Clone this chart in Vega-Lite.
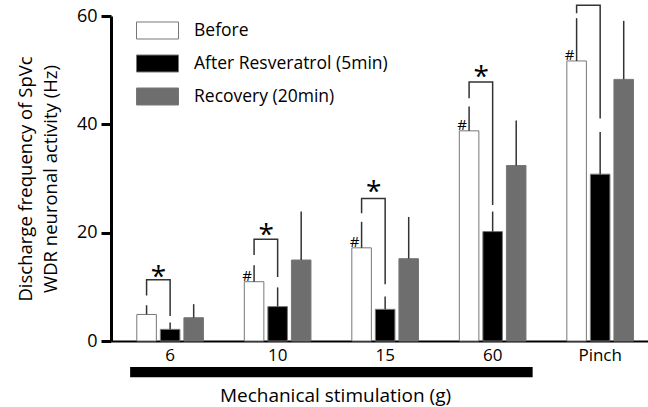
{
  "$schema": "https://vega.github.io/schema/vega-lite/v6.json",
  "width": 537,
  "height": 325,
  "autosize": {"type": "none"},
  "padding": {"left": 111, "top": 16, "right": 0, "bottom": 66},
  "config": {"view": {"stroke": null}, "font": "Open Sans"},
  "datasets": {
    "bars": [
      {"group": "6", "series": "Before", "value": 4.9, "err": 6.6},
      {"group": "6", "series": "After Resveratrol (5min)", "value": 2.15, "err": 3.4},
      {"group": "6", "series": "Recovery (20min)", "value": 4.3, "err": 6.8},
      {"group": "10", "series": "Before", "value": 10.95, "err": 14.0},
      {"group": "10", "series": "After Resveratrol (5min)", "value": 6.35, "err": 9.9},
      {"group": "10", "series": "Recovery (20min)", "value": 14.95, "err": 23.9},
      {"group": "15", "series": "Before", "value": 17.2, "err": 22.0},
      {"group": "15", "series": "After Resveratrol (5min)", "value": 5.85, "err": 8.2},
      {"group": "15", "series": "Recovery (20min)", "value": 15.2, "err": 22.9},
      {"group": "60", "series": "Before", "value": 38.8, "err": 43.3},
      {"group": "60", "series": "After Resveratrol (5min)", "value": 20.2, "err": 23.9},
      {"group": "60", "series": "Recovery (20min)", "value": 32.4, "err": 40.7},
      {"group": "Pinch", "series": "Before", "value": 51.7, "err": 59.6},
      {"group": "Pinch", "series": "After Resveratrol (5min)", "value": 30.8, "err": 38.6},
      {"group": "Pinch", "series": "Recovery (20min)", "value": 48.3, "err": 59.1}
    ],
    "brackets": [
      {"id": "b6", "group": "6", "series": "Before", "y": 8.4, "k": 1},
      {"id": "b6", "group": "6", "series": "Before", "y": 11.3, "k": 2},
      {"id": "b6", "group": "6", "series": "After Resveratrol (5min)", "y": 11.3, "k": 3},
      {"id": "b6", "group": "6", "series": "After Resveratrol (5min)", "y": 4.6, "k": 4},
      {"id": "b10", "group": "10", "series": "Before", "y": 15.9, "k": 1},
      {"id": "b10", "group": "10", "series": "Before", "y": 18.8, "k": 2},
      {"id": "b10", "group": "10", "series": "After Resveratrol (5min)", "y": 18.8, "k": 3},
      {"id": "b10", "group": "10", "series": "After Resveratrol (5min)", "y": 11.8, "k": 4},
      {"id": "b15", "group": "15", "series": "Before", "y": 23.6, "k": 1},
      {"id": "b15", "group": "15", "series": "Before", "y": 26.3, "k": 2},
      {"id": "b15", "group": "15", "series": "After Resveratrol (5min)", "y": 26.3, "k": 3},
      {"id": "b15", "group": "15", "series": "After Resveratrol (5min)", "y": 10.5, "k": 4},
      {"id": "b60", "group": "60", "series": "Before", "y": 44.8, "k": 1},
      {"id": "b60", "group": "60", "series": "Before", "y": 47.8, "k": 2},
      {"id": "b60", "group": "60", "series": "After Resveratrol (5min)", "y": 47.8, "k": 3},
      {"id": "b60", "group": "60", "series": "After Resveratrol (5min)", "y": 25.1, "k": 4},
      {"id": "bP", "group": "Pinch", "series": "Before", "y": 60.5, "k": 1},
      {"id": "bP", "group": "Pinch", "series": "Before", "y": 62, "k": 2},
      {"id": "bP", "group": "Pinch", "series": "After Resveratrol (5min)", "y": 62, "k": 3},
      {"id": "bP", "group": "Pinch", "series": "After Resveratrol (5min)", "y": 41.1, "k": 4}
    ],
    "stars": [
      {"group": "6", "series": "Before", "y": 13.0},
      {"group": "10", "series": "Before", "y": 20.6},
      {"group": "15", "series": "Before", "y": 28.6},
      {"group": "60", "series": "Before", "y": 49.9}
    ],
    "hashes": [
      {"group": "10", "series": "Before", "y": 10.95},
      {"group": "15", "series": "Before", "y": 17.2},
      {"group": "60", "series": "Before", "y": 38.8},
      {"group": "Pinch", "series": "Before", "y": 51.7}
    ],
    "stim": [
      {"from": "6", "to": "60", "low": -6.7, "high": -4.8}
    ]
  },
  "encoding": {
    "x": {
      "field": "group",
      "type": "nominal",
      "scale": {"domain": ["6", "10", "15", "60", "Pinch"], "paddingInner": 0.38, "paddingOuter": 0.1875, "align": 0.64},
      "axis": {
        "labelAngle": 0,
        "labelFontSize": 17,
        "labelColor": "#000",
        "labelPadding": 6,
        "ticks": false,
        "domainColor": "#000",
        "domainWidth": 2,
        "title": "Mechanical stimulation (g)",
        "titleFontSize": 19,
        "titleFontWeight": "normal",
        "titleColor": "#000",
        "titleX": 224,
        "titleY": 60,
        "titleBaseline": "alphabetic"
      }
    }
  },
  "layer": [
    {
      "data": {"name": "bars"},
      "mark": {"type": "bar", "stroke": "#777", "strokeWidth": 1},
      "encoding": {
        "xOffset": {
          "field": "series",
          "type": "nominal",
          "scale": {"domain": ["Before", "After Resveratrol (5min)", "Recovery (20min)"], "paddingInner": 0.17, "paddingOuter": 0}
        },
        "y": {
          "field": "value",
          "type": "quantitative",
          "scale": {"domain": [0, 60], "nice": false},
          "axis": {
            "values": [0, 20, 40, 60],
            "grid": false,
            "domainColor": "#000",
            "domainWidth": 3,
            "tickColor": "#000",
            "tickWidth": 3,
            "tickSize": 10,
            "labelFontSize": 18,
            "labelColor": "#000",
            "labelPadding": 4,
            "title": ["Discharge frequency of SpVc", "WDR neuronal activity (Hz)"],
            "titleFontSize": 18.5,
            "titleFontWeight": "normal",
            "titleColor": "#000",
            "titleLineHeight": 25,
            "titlePadding": 16
          }
        },
        "fill": {
          "field": "series",
          "type": "nominal",
          "scale": {"domain": ["Before", "After Resveratrol (5min)", "Recovery (20min)"], "range": ["#ffffff", "#000000", "#6e6e6e"]},
          "legend": {
            "title": null,
            "orient": "none",
            "legendX": 25,
            "legendY": -7,
            "symbolType": "M-1,-0.405H1V0.405H-1Z",
            "symbolSize": 1764,
            "symbolStrokeColor": "#777",
            "symbolStrokeWidth": 1,
            "labelFontSize": 17.5,
            "labelColor": "#000",
            "labelOffset": 15,
            "labelLimit": 400,
            "rowPadding": -15.8,
            "padding": 0
          }
        }
      }
    },
    {
      "data": {"name": "bars"},
      "mark": {"type": "rule", "color": "#333", "strokeWidth": 1.5},
      "encoding": {
        "xOffset": {"field": "series", "type": "nominal"},
        "y": {"field": "value", "type": "quantitative"},
        "y2": {"field": "err"}
      }
    },
    {
      "data": {"name": "brackets"},
      "mark": {"type": "line", "color": "#333", "strokeWidth": 1.5},
      "encoding": {
        "xOffset": {"field": "series", "type": "nominal"},
        "y": {"field": "y", "type": "quantitative"},
        "detail": {"field": "id"},
        "order": {"field": "k", "type": "quantitative"}
      }
    },
    {
      "data": {"name": "stars"},
      "mark": {"type": "text", "text": "*", "fontSize": 28, "dx": 12, "dy": 15, "baseline": "alphabetic", "color": "#000"},
      "encoding": {
        "xOffset": {"field": "series", "type": "nominal"},
        "y": {"field": "y", "type": "quantitative"}
      }
    },
    {
      "data": {"name": "hashes"},
      "mark": {"type": "text", "text": "#", "fontSize": 15, "dx": -7, "dy": -1, "baseline": "alphabetic", "color": "#000"},
      "encoding": {
        "xOffset": {"field": "series", "type": "nominal"},
        "y": {"field": "y", "type": "quantitative"}
      }
    },
    {
      "data": {"name": "stim"},
      "mark": {"type": "rect", "color": "#000"},
      "encoding": {
        "x": {"field": "from", "type": "nominal", "bandPosition": -0.1},
        "x2": {"field": "to", "bandPosition": 1.1},
        "y": {"field": "low", "type": "quantitative"},
        "y2": {"field": "high"}
      }
    }
  ]
}
